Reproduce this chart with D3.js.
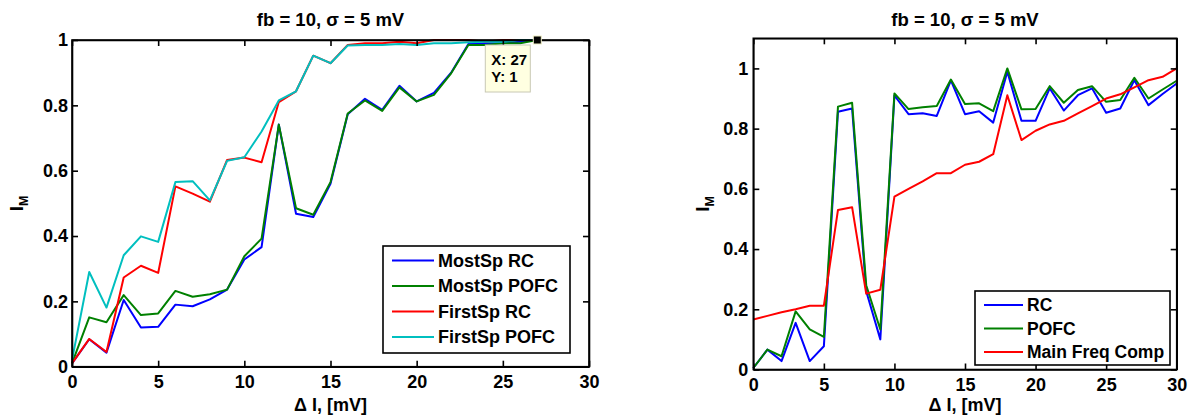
<!DOCTYPE html>
<html>
<head>
<meta charset="utf-8">
<script src="https://cdn.jsdelivr.net/npm/d3@7"></script>
<style>
  body { margin: 0; background: #fff; }
  svg text { font-family: "Liberation Sans", Arial, sans-serif; font-weight: bold; fill: #000; }
  .axis path, .axis line { stroke: #000; stroke-width: 1.6; }
</style>
</head>
<body>
<div id="chart"></div>
<script>
// ---- data ----
const leftX = [0,1,2,3,4,5,6,7,8,9,10,11,12,13,14,15,16,17,18,19,20,21,22,23,24,25,26,27];
const mostSpRC   = [0.01,0.084,0.043,0.204,0.12,0.122,0.19,0.185,0.206,0.236,0.328,0.366,0.741,0.468,0.458,0.56,0.773,0.82,0.786,0.86,0.812,0.838,0.9,0.988,0.99,0.99,0.995,1];
const mostSpPOFC = [0.01,0.151,0.136,0.219,0.158,0.163,0.232,0.214,0.222,0.236,0.338,0.392,0.741,0.485,0.465,0.565,0.775,0.815,0.783,0.855,0.812,0.832,0.898,0.985,0.985,0.99,0.99,1];
const firstSpRC  = [0.01,0.085,0.045,0.273,0.309,0.287,0.552,0.53,0.505,0.633,0.64,0.626,0.81,0.843,0.952,0.929,0.985,0.99,0.99,0.995,0.99,1,1,1,0.995,1,1,1];
const firstSpPOFC= [0.02,0.29,0.181,0.341,0.399,0.382,0.565,0.568,0.509,0.63,0.641,0.72,0.815,0.843,0.952,0.929,0.983,0.985,0.985,0.988,0.985,0.99,0.99,0.993,0.995,0.995,1,1];
const leftNames = ["MostSp RC", "MostSp POFC", "FirstSp RC", "FirstSp POFC"];

const rightX = [0,1,2,3,4,5,6,7,8,9,10,11,12,13,14,15,16,17,18,19,20,21,22,23,24,25,26,27,28,29,30];
const rcVals   = [0.005,0.066,0.028,0.155,0.028,0.077,0.856,0.867,0.26,0.10,0.91,0.848,0.851,0.842,0.96,0.848,0.858,0.82,0.989,0.826,0.826,0.934,0.86,0.911,0.934,0.853,0.867,0.961,0.878,0.915,0.95];
const pofcVals = [0.005,0.066,0.044,0.193,0.133,0.108,0.873,0.886,0.28,0.133,0.917,0.865,0.871,0.875,0.963,0.882,0.884,0.858,1.0,0.864,0.865,0.941,0.886,0.928,0.941,0.889,0.895,0.969,0.90,0.93,0.959];
const mainFreq = [0.166,0.178,0.19,0.2,0.212,0.212,0.53,0.539,0.252,0.265,0.574,0.6,0.625,0.652,0.652,0.68,0.69,0.715,0.911,0.762,0.793,0.814,0.826,0.851,0.875,0.90,0.914,0.937,0.961,0.972,1.0];
const rightNames = ["RC", "POFC", "Main Freq Comp"];

const xTicks = [0,5,10,15,20,25,30];
const yTicks = [0,0.2,0.4,0.6,0.8,1];
const titleText = "fb = 10, \u03c3 = 5 mV";
const tipX = 27, tipY = 1;

const svg = d3.select("#chart").append("svg")
    .attr("width", 1192)
    .attr("height", 416);

svg.append("rect").attr("width", 1192).attr("height", 416).attr("fill", "#fff");

function drawPanel(opt) {
    const x = d3.scaleLinear().domain([0, 30]).range([opt.left, opt.right]);
    const y = d3.scaleLinear().domain([0, opt.ymax]).range([opt.bottom, opt.top]);
    const fmt = d => d3.format("~g")(d);

    let g = svg.append("g");

    // lines
    const line = d3.line().x(d => x(d[0])).y(d => y(d[1]));
    opt.series.forEach(s => {
        g.append("path")
            .datum(opt.xs.map((v, i) => [v, s.values[i]]))
            .attr("d", line)
            .attr("fill", "none")
            .attr("stroke", s.color)
            .attr("stroke-width", 2)
            .attr("stroke-linejoin", "round");
    });

    // axes, ticks inward
    g.append("g").attr("class", "axis")
        .attr("transform", `translate(0,${opt.bottom})`)
        .call(d3.axisBottom(x).tickValues(xTicks).tickSize(-6).tickSizeOuter(0).tickPadding(9).tickFormat(fmt))
        .call(a => a.selectAll("text").attr("font-size", 18).attr("font-family", null));
    g.append("g").attr("class", "axis")
        .attr("transform", `translate(0,${opt.top})`)
        .call(d3.axisTop(x).tickValues(xTicks).tickSize(-6).tickSizeOuter(0).tickFormat(""));
    g.append("g").attr("class", "axis")
        .attr("transform", `translate(${opt.left},0)`)
        .call(d3.axisLeft(y).tickValues(yTicks).tickSize(-6).tickSizeOuter(0).tickPadding(opt.ypad).tickFormat(fmt))
        .call(a => a.selectAll("text").attr("font-size", 18).attr("font-family", null));
    g.append("g").attr("class", "axis")
        .attr("transform", `translate(${opt.right},0)`)
        .call(d3.axisRight(y).tickValues(yTicks).tickSize(-6).tickSizeOuter(0).tickFormat(""));

    g.append("rect")
        .attr("x", opt.left).attr("y", opt.top)
        .attr("width", opt.right - opt.left).attr("height", opt.bottom - opt.top)
        .attr("fill", "none").attr("stroke", "#000").attr("stroke-width", 1.6);

    // title
    g.append("text")
        .attr("x", (opt.left + opt.right) / 2).attr("y", 26)
        .attr("text-anchor", "middle").attr("font-size", 18.5)
        .text(titleText);

    // x label
    g.append("text")
        .attr("x", (opt.left + opt.right) / 2).attr("y", 411)
        .attr("text-anchor", "middle").attr("font-size", 18)
        .text("\u0394 I, [mV]");

    // y label I_M
    let yl = g.append("text")
        .attr("transform", `translate(${opt.ylabX},${(opt.top + opt.bottom) / 2}) rotate(-90)`)
        .attr("text-anchor", "middle").attr("font-size", 19);
    yl.append("tspan").text("I");
    yl.append("tspan").attr("font-size", 12.5).attr("dy", 5).text("M");

    // legend
    const L = opt.legend;
    g.append("rect")
        .attr("x", L.x).attr("y", L.y).attr("width", L.w).attr("height", L.h)
        .attr("fill", "#fff").attr("stroke", "#000").attr("stroke-width", 1.6);
    opt.series.forEach((s, i) => {
        const ly = L.y + L.first + i * L.step;
        g.append("line")
            .attr("x1", L.x + 9).attr("x2", L.x + 9 + L.len)
            .attr("y1", ly).attr("y2", ly)
            .attr("stroke", s.color).attr("stroke-width", 2);
        g.append("text")
            .attr("x", L.x + 13 + L.len).attr("y", ly + 6)
            .attr("font-size", L.fs)
            .text(s.name);
    });

    return { x, y, g };
}

const left = drawPanel({
    left: 72, right: 589, top: 40, bottom: 366.7, ymax: 1, ypad: 4, ylabX: 22.5,
    xs: leftX,
    series: [
        { name: leftNames[0], values: mostSpRC, color: "#0000ff" },
        { name: leftNames[1], values: mostSpPOFC, color: "#008000" },
        { name: leftNames[2], values: firstSpRC, color: "#ff0000" },
        { name: leftNames[3], values: firstSpPOFC, color: "#00bfbf" }
    ],
    legend: { x: 383, y: 246, w: 187, h: 107, first: 14.5, step: 25.5, len: 42, fs: 18 }
});

drawPanel({
    left: 753.3, right: 1176.7, top: 38.3, bottom: 369.5, ymax: 1.1, ypad: 5, ylabX: 709,
    xs: rightX,
    series: [
        { name: rightNames[0], values: rcVals, color: "#0000ff" },
        { name: rightNames[1], values: pofcVals, color: "#008000" },
        { name: rightNames[2], values: mainFreq, color: "#ff0000" }
    ],
    legend: { x: 975, y: 291, w: 195, h: 74, first: 14, step: 23.5, len: 39, fs: 17.5 }
});

// data tip on the left panel
const tx = left.x(tipX), ty = left.y(tipY);
const tip = left.g.append("g");
tip.append("rect")
    .attr("x", tx - 52).attr("y", ty + 5).attr("width", 45).attr("height", 47)
    .attr("fill", "#ffffe1").attr("stroke", "#c8c8b4").attr("stroke-width", 1);
tip.append("text").attr("x", tx - 46).attr("y", ty + 25).attr("font-size", 15).text("X: " + tipX);
tip.append("text").attr("x", tx - 46).attr("y", ty + 42).attr("font-size", 15).text("Y: " + tipY);
tip.append("rect")
    .attr("x", tx - 4).attr("y", ty - 4).attr("width", 8).attr("height", 8)
    .attr("fill", "#000").attr("stroke", "#f0f0c8").attr("stroke-width", 1);
</script>
</body>
</html>
